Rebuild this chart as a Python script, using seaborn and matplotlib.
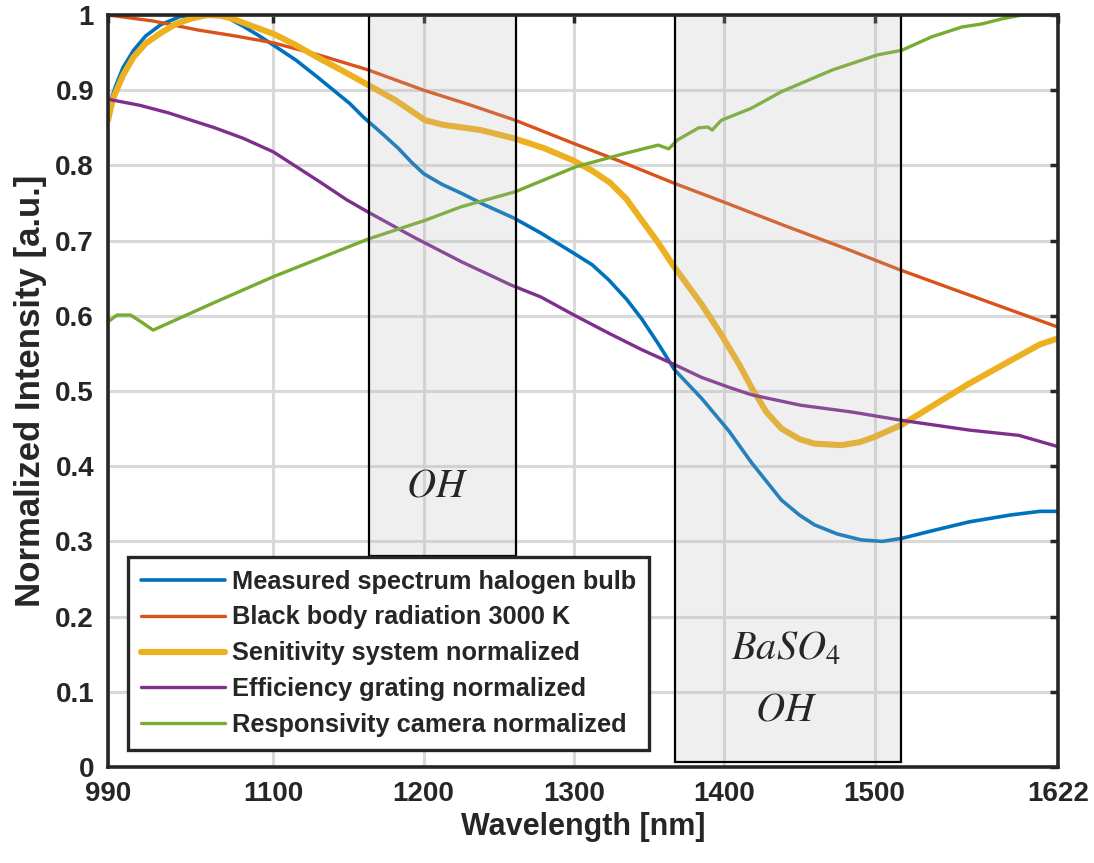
import numpy as np
import pandas as pd
import matplotlib
matplotlib.use("Agg")
import matplotlib.pyplot as plt
import seaborn as sns
from matplotlib.patches import Rectangle

# ---------------- data ----------------
series_names = [
    "Measured spectrum halogen bulb",
    "Black body radiation 3000 K",
    "Senitivity system normalized",
    "Efficiency grating normalized",
    "Responsivity camera normalized",
]

halogen_wl = [990, 995, 1000, 1007, 1015, 1025, 1038, 1050, 1060, 1069, 1080, 1090, 1100,
              1115, 1129, 1140, 1151, 1160, 1172, 1183, 1192, 1200, 1212, 1225, 1240, 1260,
              1278, 1300, 1312, 1323, 1335, 1345, 1356, 1367, 1385, 1403, 1418, 1438, 1450,
              1460, 1475, 1491, 1505, 1518, 1540, 1563, 1590, 1610, 1622]
halogen_val = [0.875, 0.905, 0.93, 0.953, 0.972, 0.987, 0.998, 1.0, 1.0, 0.997, 0.985, 0.973,
               0.96, 0.94, 0.918, 0.90, 0.882, 0.864, 0.843, 0.823, 0.804, 0.789, 0.775, 0.763,
               0.748, 0.73, 0.71, 0.683, 0.668, 0.648, 0.622, 0.596, 0.563, 0.528, 0.49, 0.447,
               0.405, 0.355, 0.335, 0.322, 0.31, 0.302, 0.30, 0.304, 0.315, 0.326, 0.335, 0.340,
               0.340]

blackbody_wl = [990, 1020, 1050, 1075, 1100, 1130, 1163, 1200, 1230, 1261, 1300, 1330, 1367,
                1400, 1440, 1480, 1517, 1550, 1590, 1622]
blackbody_val = [1.0, 0.992, 0.98, 0.972, 0.963, 0.947, 0.927, 0.90, 0.881, 0.86, 0.829, 0.806,
                 0.776, 0.751, 0.72, 0.69, 0.661, 0.637, 0.608, 0.585]

system_wl = [990, 993, 1000, 1007, 1015, 1025, 1035, 1045, 1056, 1065, 1073, 1085, 1100, 1115,
             1129, 1145, 1163, 1181, 1201, 1213, 1238, 1260, 1280, 1299, 1312, 1324, 1335, 1344,
             1355, 1366, 1385, 1398, 1410, 1418, 1428, 1438, 1450, 1460, 1478, 1490, 1500, 1518,
             1540, 1563, 1590, 1610, 1622]
system_val = [0.86, 0.887, 0.92, 0.944, 0.962, 0.976, 0.988, 0.995, 1.0, 0.999, 0.995, 0.986,
              0.975, 0.96, 0.944, 0.927, 0.907, 0.887, 0.86, 0.854, 0.847, 0.836, 0.823, 0.807,
              0.793, 0.777, 0.755, 0.73, 0.70, 0.667, 0.615, 0.575, 0.535, 0.505, 0.472, 0.45,
              0.436, 0.43, 0.428, 0.432, 0.439, 0.455, 0.482, 0.51, 0.54, 0.562, 0.57]

grating_wl = [990, 1011, 1030, 1061, 1080, 1100, 1131, 1149, 1163, 1193, 1225, 1258, 1278,
              1300, 1323, 1345, 1367, 1385, 1403, 1418, 1451, 1485, 1518, 1563, 1596, 1622]
grating_val = [0.888, 0.88, 0.87, 0.85, 0.836, 0.818, 0.778, 0.754, 0.738, 0.705, 0.672, 0.641,
               0.625, 0.601, 0.577, 0.555, 0.535, 0.518, 0.505, 0.495, 0.481, 0.472, 0.461,
               0.448, 0.441, 0.426]

camera_wl = [990, 996, 1005, 1012, 1020, 1060, 1100, 1163, 1201, 1225, 1261, 1301, 1334, 1356,
             1363, 1369, 1383, 1389, 1392, 1398, 1418, 1438, 1472, 1502, 1518, 1538, 1558, 1571,
             1585, 1598, 1622]
camera_val = [0.592, 0.601, 0.601, 0.592, 0.581, 0.617, 0.652, 0.702, 0.727, 0.745, 0.765,
              0.798, 0.816, 0.827, 0.822, 0.834, 0.85, 0.851, 0.847, 0.86, 0.876, 0.898, 0.927,
              0.947, 0.953, 0.971, 0.984, 0.988, 0.995, 1.0, 1.0]

# absorption bands: (start, end, bottom, top)
band_oh = (1163.6, 1261.3, 0.28, 1.0)
band_baso4 = (1367.3, 1517.3, 0.006, 1.0)

xtick_vals = [990, 1100, 1200, 1300, 1400, 1500, 1622]
ytick_vals = [0, 0.1, 0.2, 0.3, 0.4, 0.5, 0.6, 0.7, 0.8, 0.9, 1.0]
ytick_labels = ["0", "0.1", "0.2", "0.3", "0.4", "0.5", "0.6", "0.7", "0.8", "0.9", "1"]

# ---------------- styling ----------------
sns.set_style("white")
plt.rcParams["font.family"] = ["Liberation Sans", "DejaVu Sans"]
plt.rcParams["font.weight"] = "normal"
plt.rcParams["mathtext.fontset"] = "stix"

colors = ["#0072BD", "#D95319", "#EDB120", "#7E2F8E", "#77AC30"]
widths = [2.6, 2.4, 4.4, 2.4, 2.4]

data = [(halogen_wl, halogen_val), (blackbody_wl, blackbody_val), (system_wl, system_val),
        (grating_wl, grating_val), (camera_wl, camera_val)]

frames = []
for name, (wl, val) in zip(series_names, data):
    frames.append(pd.DataFrame({"Wavelength": wl, "Intensity": val, "series": name}))
df = pd.concat(frames, ignore_index=True)

fig = plt.figure(figsize=(10.94, 8.63), dpi=100)
ax = fig.add_axes([108 / 1094, 1 - 767 / 863, 950 / 1094, 752 / 863])

for name, c, lw in zip(series_names, colors, widths):
    sns.lineplot(data=df[df["series"] == name], x="Wavelength", y="Intensity", color=c,
                 linewidth=lw, label=name, ax=ax, estimator=None, sort=False, zorder=3)

for (x0, x1, y0, y1) in [band_oh, band_baso4]:
    ax.add_patch(Rectangle((x0, y0), x1 - x0, y1 - y0, facecolor="#b8b8b8", alpha=0.21,
                           edgecolor="none", zorder=4))
    ax.add_patch(Rectangle((x0, y0), x1 - x0, y1 - y0, facecolor="none", edgecolor="black",
                           linewidth=1.6, zorder=5))

tkw = dict(fontsize=29, ha="center", va="center", zorder=6, fontweight="normal")
ax.text(1209, 0.375, r"$OH$", **tkw)
ax.text(1441, 0.158, r"$BaSO_4$", **tkw)
ax.text(1441, 0.076, r"$OH$", **tkw)

ax.set_xlim(990, 1622)
ax.set_ylim(0, 1)
ax.set_xticks(xtick_vals)
ax.set_xticklabels([str(v) for v in xtick_vals], fontweight="bold")
ax.set_yticks(ytick_vals)
ax.set_yticklabels(ytick_labels, fontweight="bold")
ax.grid(True, color="#d9d9d9", linewidth=2.2, zorder=0)
ax.set_axisbelow(True)
ax.tick_params(direction="in", length=6, width=2.5, top=True, right=True, labelsize=20,
               pad=10, colors="#262626")
for sp in ax.spines.values():
    sp.set_linewidth(2.6)
    sp.set_color("#262626")
    sp.set_zorder(7)

ax.set_xlabel("Wavelength [nm]", fontsize=22, labelpad=4, color="#262626", fontweight="bold")
ax.set_ylabel("Normalized Intensity [a.u.]", fontsize=25, labelpad=6, color="#262626",
              fontweight="bold")

leg = ax.legend(loc="lower left", bbox_to_anchor=(0.021, 0.0226), borderaxespad=0,
                prop={"size": 18.3, "weight": "bold"}, handlelength=3.3, handletextpad=0.3,
                labelspacing=0.47, borderpad=0.5, frameon=True, fancybox=False, framealpha=1)
leg.get_frame().set_edgecolor("#262626")
leg.get_frame().set_linewidth(2.4)
leg.set_zorder(10)

fig.savefig("out.png", dpi=100)
